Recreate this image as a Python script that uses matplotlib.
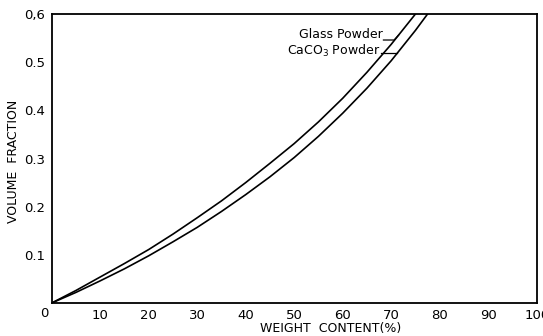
import numpy as np
import matplotlib.pyplot as plt

# weight content (%) of filler
weight = [0, 5, 10, 15, 20, 25, 30, 35, 40, 45, 50, 55, 60, 65, 70, 75]
# volume fraction read for each filler
glass = [0, 0.026, 0.054, 0.082, 0.111, 0.143, 0.177, 0.212, 0.250, 0.290,
         0.331, 0.376, 0.425, 0.479, 0.537, 0.600]
weight_caco3 = [0, 5, 10, 15, 20, 25, 30, 35, 40, 45, 50, 55, 60, 65, 70, 75, 77.5]
caco3 = [0, 0.022, 0.046, 0.071, 0.098, 0.127, 0.157, 0.190, 0.225, 0.262,
         0.302, 0.346, 0.394, 0.446, 0.503, 0.566, 0.600]

xticks = [10, 20, 30, 40, 50, 60, 70, 80, 90, 100]
yticks = [0.1, 0.2, 0.3, 0.4, 0.5, 0.6]
ylabels = ['0.1', '0.2', '0.3', '0.4', '0.5', '0,6']

fig = plt.figure(figsize=(5.43, 3.36), dpi=100)
ax = fig.add_axes([51.7 / 543, 33 / 336, 485 / 543, 289 / 336])

ax.plot(weight, glass, color='black', lw=1.2)
ax.plot(weight_caco3, caco3, color='black', lw=1.2)

ax.set_xlim(0, 100)
ax.set_ylim(0, 0.6)
ax.set_xticks(xticks)
ax.set_yticks(yticks)
ax.set_yticklabels(ylabels)
ax.tick_params(length=0, labelsize=9.5, pad=5)
ax.tick_params(axis='x', pad=4)
ax.annotate('0', xy=(0, 0), xytext=(-5, -3), textcoords='offset points',
            ha='center', va='top', fontsize=9.5)
for s in ax.spines.values():
    s.set_linewidth(1.3)

ax.set_xlabel('WEIGHT  CONTENT(%)', fontsize=9)
ax.xaxis.set_label_coords(0.576, -0.066)
ax.set_ylabel('VOLUME  FRACTION', fontsize=9)
ax.yaxis.set_label_coords(-0.066, 0.49)

# leaders from the labels to each curve
yg = 0.546
xg = np.interp(0.556, glass, weight)
ax.text(68.3, 0.558, 'Glass Powder', ha='right', va='center', fontsize=9)
ax.plot([68.4, 70.6, xg], [yg, yg, 0.556], color='black', lw=0.9)

yc = 0.518
xc = np.interp(yc, caco3, weight_caco3)
ax.text(67.7, 0.524, 'CaCO$_3$ Powder', ha='right', va='center', fontsize=9)
ax.plot([67.8, xc], [yc, yc], color='black', lw=0.9)

fig.savefig('out.png', dpi=100)
